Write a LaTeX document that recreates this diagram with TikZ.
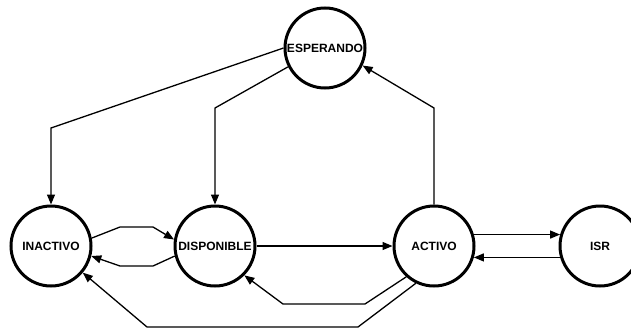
\documentclass[tikz,border=0pt]{standalone}
\usepackage{fontspec}
\setmainfont{Liberation Sans}
\usetikzlibrary{arrows.meta}
\begin{document}
\begin{tikzpicture}[x=1pt,y=-1pt,
  state/.style={circle,draw,line width=3pt,minimum size=80pt,inner sep=0pt,
    font=\fontsize{12}{14}\selectfont\bfseries},
  conn/.style={line width=1.3pt,-{Triangle[length=10pt,width=8pt]},line join=miter}]
\useasboundingbox (0,0) rectangle (631,329);
\node[state] (esp) at (325,48) {ESPERANDO};
\node[state] (ina) at (51,246) {INACTIVO};
\node[state] (disp) at (215,246) {DISPONIBLE};
\node[state] (act) at (434,246) {ACTIVO};
\node[state] (isr) at (600,246) {ISR};
\draw[conn] (esp.180) -- (ina.north |- 0,128) -- (ina.north);
\draw[conn] (esp.207) -- (disp.north |- 0,108) -- (disp.north);
\draw[conn] (act.north) -- (act.north |- 0,108) -- (esp.-25);
\draw[conn] (ina.11) -- (120,227) -- (153,227) -- (disp.171);
\draw[conn] (disp.194) -- (153,266) -- (120,266) -- (ina.-14);
\draw[conn] (disp.east) -- (act.west);
\draw[conn] (act.16) -- (isr.164);
\draw[conn] (isr.196) -- (act.-16);
\draw[conn] (act.228) -- (365,304) -- (283,304) -- (disp.-45);
\draw[conn] (act.244) -- (358,327) -- (147,327) -- (ina.-40);
\end{tikzpicture}
\end{document}
